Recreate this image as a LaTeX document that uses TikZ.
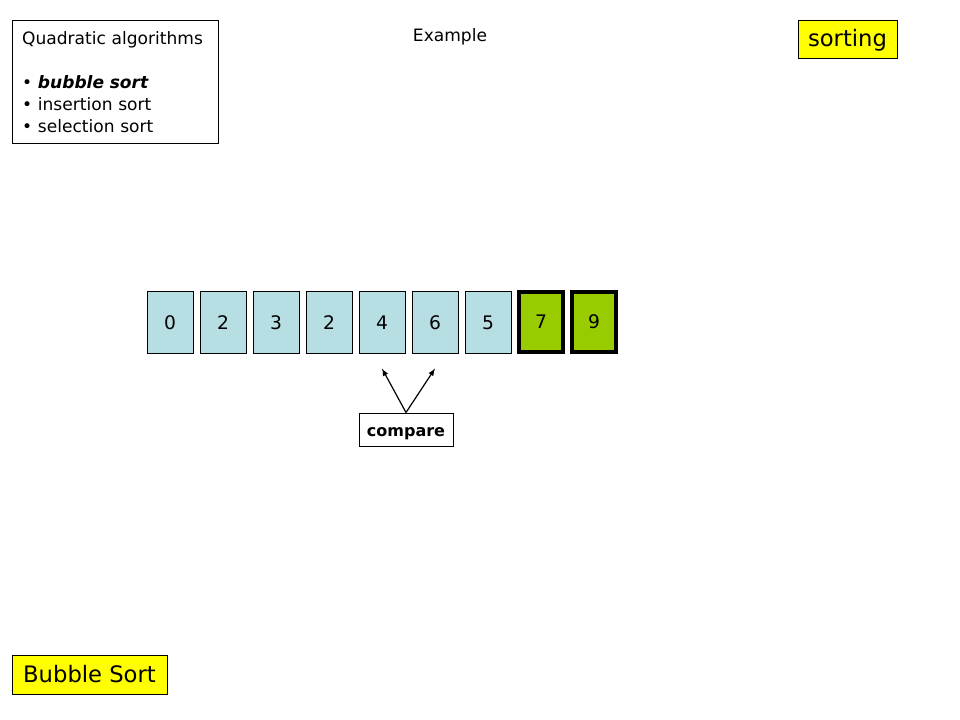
\documentclass[tikz,border=0pt]{standalone}
\usepackage{fontspec}
\setmainfont{DejaVu Sans}
\usepackage{xcolor}
\usetikzlibrary{calc}
\usetikzlibrary{arrows}
\usetikzlibrary{positioning}
\definecolor{CellBlue}{HTML}{B7DEE3}
\definecolor{DoneGreen}{HTML}{99CC00}
\definecolor{TagYellow}{HTML}{FFFF00}

\begin{document}
\begin{tikzpicture}[x=0.75pt, y=-0.75pt,
  every node/.style={font=\fontsize{12.8}{16.5}\selectfont},
  cell/.style={draw, line width=0.75pt, fill=CellBlue,
    minimum width=34.5pt, minimum height=45.75pt, inner sep=0pt,
    font=\fontsize{14}{16}\selectfont},
  donecell/.style={draw, line width=3pt, fill=DoneGreen,
    minimum width=33pt, minimum height=45pt, inner sep=0pt,
    font=\fontsize{14}{16}\selectfont},
  tag/.style={draw, line width=0.75pt, fill=TagYellow, inner sep=0pt,
    font=\fontsize{17}{20}\selectfont}]
  \useasboundingbox[fill=white] (0,0) rectangle (960,720);

  \node[draw, line width=0.75pt, anchor=north west, align=left,
    text width=140pt, minimum width=154.5pt, minimum height=92.25pt,
    inner xsep=7pt, inner ysep=0pt] (algos) at (12,20)
    {Quadratic algorithms\\[16.5pt]
     \textbullet\ \textbf{\textit{bubble sort}}\\
     \textbullet\ insertion sort\\
     \textbullet\ selection sort};

  \node (example) at (450,37) {Example};

  \node[tag, minimum width=74.25pt, minimum height=28.5pt] (sorting)
    at (847.5,40) {sorting};
  \node[tag, minimum width=116.25pt, minimum height=29.25pt] (title)
    at (89.5,674.5) {Bubble Sort};

  \foreach \v [count=\i] in {0,2,3,2,4,6,5}{%
    \node[cell] (c\i) at (170+53*\i-53,322.5) {\v};
  }
  \foreach \v [count=\i from 8] in {7,9}{%
    \node[donecell] (c\i) at (170+53*\i-53,322) {\v};
  }

  \node[draw, line width=0.75pt, font=\fontsize{12}{14}\bfseries,
    minimum width=70.5pt, minimum height=24.75pt, inner sep=0pt,
    text height=11pt, text depth=0.5pt]
    (compare) at (406,429.5) {compare};

  \coordinate (left)  at ($(c5.south)+(0,15)$);
  \coordinate (right) at ($(c6.south)+(0,15)$);
  \draw[line width=0.9pt,-latex] (compare.north) -- (left);
  \draw[line width=0.9pt,-latex] (compare.north) -- (right);
\end{tikzpicture}
\end{document}
